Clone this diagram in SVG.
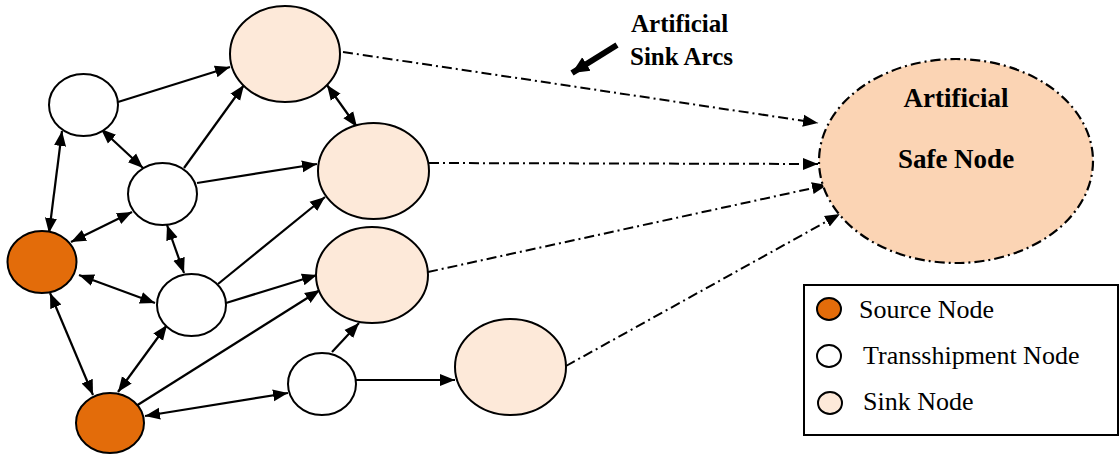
<svg xmlns="http://www.w3.org/2000/svg" width="1119" height="454" viewBox="0 0 1119 454">
<style>
.src{fill:#E36C0A;stroke:#000;stroke-width:2}
.tr{fill:#FFFFFF;stroke:#000;stroke-width:2}
.sk{fill:#FDE9D9;stroke:#000;stroke-width:2}
.safe{fill:#FBD4B4;stroke:#000;stroke-width:2.2;stroke-dasharray:10 4 2 4}
.e{stroke:#000;stroke-width:2.2;fill:none}
.one{marker-end:url(#ah)}
.two{marker-end:url(#ah);marker-start:url(#ah)}
.dd{stroke:#000;stroke-width:2;fill:none;stroke-dasharray:10 4 2 4;marker-end:url(#ah)}
.bl{font-family:"Liberation Serif","Times New Roman",serif;font-weight:bold;fill:#000}
.lg{font-family:"Liberation Serif","Times New Roman",serif;font-size:26px;fill:#000}
</style>
<defs>
<marker id="ah" markerUnits="userSpaceOnUse" markerWidth="16" markerHeight="14" viewBox="0 0 16 14" refX="15" refY="7" orient="auto-start-reverse">
<path d="M0,1 L15,7 L0,13 Z" fill="#000"/>
</marker>
<marker id="bigah" markerUnits="userSpaceOnUse" markerWidth="18" markerHeight="18" viewBox="0 0 18 18" refX="17" refY="9" orient="auto">
<path d="M0,1 L17,9 L0,17 Z" fill="#000"/>
</marker>
</defs>

<g id="connectors">
<line class="e one" x1="118" y1="102" x2="230" y2="67"/>
<line class="e two" x1="62" y1="131" x2="49" y2="233"/>
<line class="e two" x1="101" y1="129" x2="143" y2="168"/>
<line class="e one" x1="184" y1="168" x2="244" y2="85"/>
<line class="e one" x1="197" y1="183" x2="317" y2="164"/>
<line class="e two" x1="132" y1="212" x2="71" y2="242"/>
<line class="e two" x1="167" y1="225" x2="184" y2="273"/>
<line class="e two" x1="327" y1="85" x2="357" y2="127"/>
<line class="e one" x1="218" y1="284" x2="325" y2="197"/>
<line class="e one" x1="226" y1="303" x2="317" y2="275"/>
<line class="e two" x1="79" y1="275" x2="155" y2="303"/>
<line class="e two" x1="50" y1="293" x2="93" y2="395"/>
<line class="e two" x1="167" y1="325" x2="118" y2="392"/>
<line class="e one" x1="136" y1="406" x2="320" y2="290"/>
<line class="e two" x1="145" y1="416" x2="288" y2="393"/>
<line class="e one" x1="332" y1="352" x2="359" y2="323"/>
<line class="e one" x1="356" y1="380" x2="455" y2="380"/>
<line class="dd" x1="343" y1="52" x2="818" y2="123"/>
<line class="dd" x1="429" y1="163" x2="818" y2="164"/>
<line class="dd" x1="428" y1="272" x2="827" y2="185"/>
<line class="dd" x1="566" y1="366" x2="840" y2="214"/>
<line x1="617" y1="45" x2="572" y2="73" stroke="#000" stroke-width="6" marker-end="url(#bigah)"/>
</g>

<g id="safe-node">
<ellipse class="safe" cx="956" cy="161" rx="137" ry="102"/>
<text class="bl" x="956" y="107" font-size="27" text-anchor="middle">Artificial</text>
<text class="bl" x="956" y="168" font-size="27" text-anchor="middle">Safe Node</text>
</g>

<g id="label-arcs">
<text class="bl" x="631" y="32" font-size="25">Artificial</text>
<text class="bl" x="630" y="65" font-size="25">Sink Arcs</text>
</g>

<g id="t1"><ellipse class="tr" cx="83.5" cy="105" rx="34.5" ry="31"/></g>
<g id="t2"><ellipse class="tr" cx="162.5" cy="194" rx="34.5" ry="31"/></g>
<g id="t3"><ellipse class="tr" cx="191.5" cy="305" rx="34.5" ry="31"/></g>
<g id="t4"><ellipse class="tr" cx="322" cy="384" rx="34" ry="31"/></g>
<g id="s1"><ellipse class="src" cx="42" cy="262" rx="34.5" ry="31"/></g>
<g id="s2"><ellipse class="src" cx="110" cy="423" rx="34" ry="30"/></g>
<g id="k1"><ellipse class="sk" cx="285" cy="54" rx="55" ry="48"/></g>
<g id="k2"><ellipse class="sk" cx="373.5" cy="171" rx="55.5" ry="48"/></g>
<g id="k3"><ellipse class="sk" cx="372" cy="275" rx="56" ry="48"/></g>
<g id="k4"><ellipse class="sk" cx="510.5" cy="367" rx="55.5" ry="48"/></g>

<g id="legend">
<rect x="804" y="285" width="314" height="150" fill="#FFFFFF" stroke="#000" stroke-width="2"/>
<ellipse class="src" cx="829" cy="309" rx="12" ry="11"/>
<text class="lg" x="859" y="318">Source Node</text>
<ellipse class="tr" cx="829" cy="356" rx="12" ry="11"/>
<text class="lg" x="863" y="364">Transshipment Node</text>
<ellipse class="sk" cx="830" cy="403" rx="12" ry="11"/>
<text class="lg" x="863" y="410">Sink Node</text>
</g>
</svg>
